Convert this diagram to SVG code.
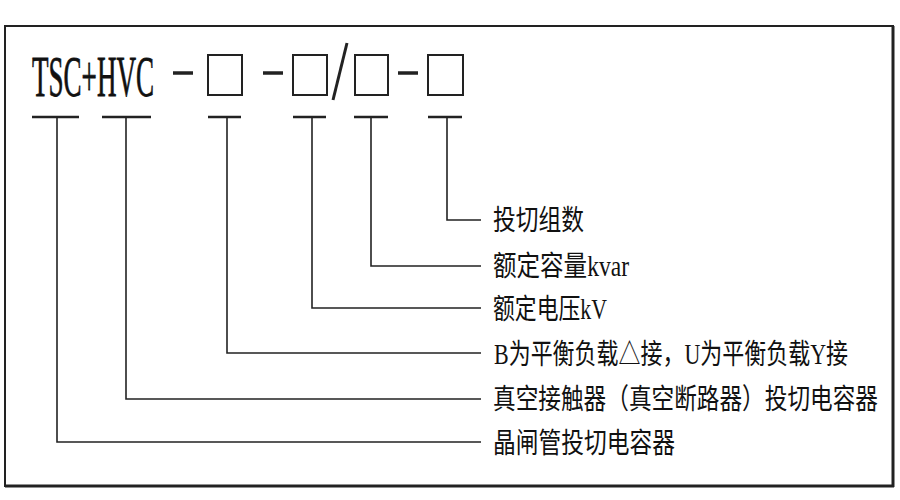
<svg xmlns="http://www.w3.org/2000/svg" width="900" height="500" viewBox="0 0 900 500">
<style>
.frame{fill:none;stroke:#222;stroke-width:2}
.code{font-family:"Liberation Serif",serif;font-size:58px;fill:#111;stroke:#111;stroke-width:0.8}
.box{fill:none;stroke:#222;stroke-width:2}
.dash{stroke:#222;stroke-width:3.5}
.ul{stroke:#222;stroke-width:2.5}
.conn{fill:none;stroke:#222;stroke-width:1.6}
.lbl{font-family:"Noto Sans CJK SC","Liberation Serif",sans-serif;font-size:23px;fill:#111}
.lat{font-family:"Liberation Serif",serif}
</style>
<rect width="900" height="500" fill="#fff"/>
<rect class="frame" x="5" y="26" width="888" height="460"/>
<line x1="893" y1="26" x2="893" y2="487" stroke="#222" stroke-width="3"/>
<line x1="5" y1="486" x2="894" y2="486" stroke="#222" stroke-width="3"/>
<g id="code">
<text class="code" x="32" y="96" textLength="122" lengthAdjust="spacingAndGlyphs">TSC+HVC</text>
<line class="dash" x1="173" y1="73" x2="193" y2="73"/>
<rect class="box" x="208" y="55" width="34" height="40"/>
<line class="dash" x1="263" y1="73" x2="283" y2="73"/>
<rect class="box" x="293" y="55" width="34" height="40"/>
<line x1="347" y1="43" x2="333" y2="100" stroke="#222" stroke-width="3"/>
<rect class="box" x="355" y="55" width="33" height="40"/>
<line class="dash" x1="398" y1="73" x2="418" y2="73"/>
<rect class="box" x="428" y="55" width="35" height="40"/>
</g>
<g id="underlines">
<line class="ul" x1="32" y1="117" x2="79" y2="117"/>
<line class="ul" x1="102" y1="117" x2="151" y2="117"/>
<line class="ul" x1="208" y1="117" x2="241" y2="117"/>
<line class="ul" x1="293" y1="117" x2="326" y2="117"/>
<line class="ul" x1="354" y1="117" x2="388" y2="117"/>
<line class="ul" x1="428" y1="117" x2="462" y2="117"/>
</g>
<g id="connectors">
<polyline class="conn" points="447,117 447,220 481,220"/>
<polyline class="conn" points="371,117 371,266 481,266"/>
<polyline class="conn" points="312,117 312,308 481,308"/>
<polyline class="conn" points="227,117 227,353 481,353"/>
<polyline class="conn" points="126,117 126,399 481,399"/>
<polyline class="conn" points="57,117 57,442 481,442"/>
</g>
<g id="n1"><text class="lbl" transform="translate(493,230) scale(1,1.25)" textLength="91" lengthAdjust="spacingAndGlyphs">投切组数</text></g>
<g id="n2"><text class="lbl" transform="translate(493,276) scale(1,1.25)" textLength="136" lengthAdjust="spacingAndGlyphs">额定容量<tspan class="lat">kvar</tspan></text></g>
<g id="n3"><text class="lbl" transform="translate(493,319) scale(1,1.25)" textLength="114" lengthAdjust="spacingAndGlyphs">额定电压<tspan class="lat">kV</tspan></text></g>
<g id="n4"><text class="lbl" transform="translate(494,364) scale(1,1.25)" textLength="354" lengthAdjust="spacingAndGlyphs"><tspan class="lat">B</tspan>为平衡负载△接，<tspan class="lat">U</tspan>为平衡负载<tspan class="lat">Y</tspan>接</text></g>
<g id="n5"><text class="lbl" transform="translate(493,409) scale(1,1.25)" textLength="385" lengthAdjust="spacingAndGlyphs">真空接触器（真空断路器）投切电容器</text></g>
<g id="n6"><text class="lbl" transform="translate(493,453) scale(1,1.25)" textLength="182" lengthAdjust="spacingAndGlyphs">晶闸管投切电容器</text></g>
</svg>
